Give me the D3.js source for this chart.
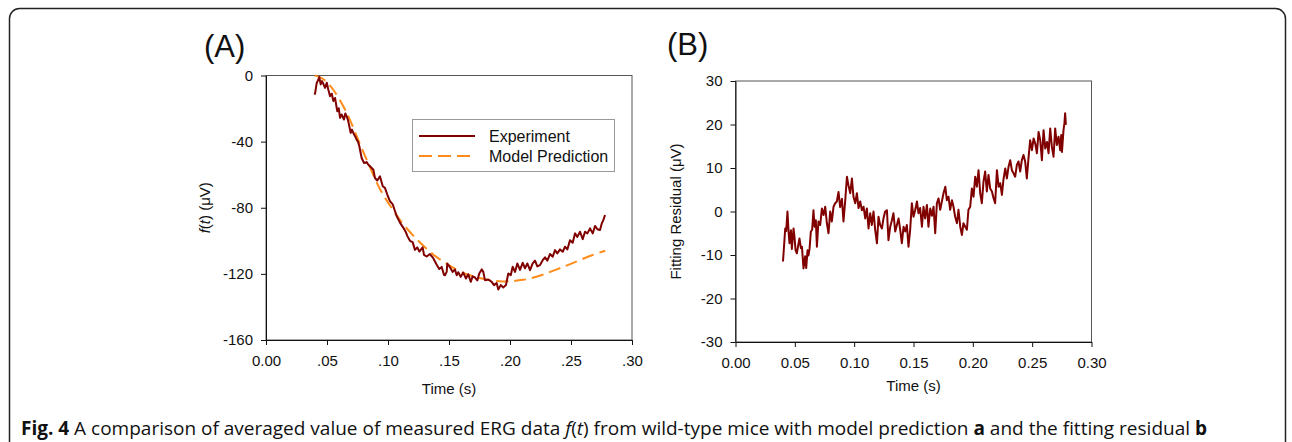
<!DOCTYPE html>
<html>
<head>
<meta charset="utf-8">
<script src="https://cdn.jsdelivr.net/npm/d3@7"></script>
<style>
body { margin: 0; background: #fff; }
svg text { font-family: "Liberation Sans", Arial, sans-serif; fill: #111; }
</style>
</head>
<body>
<div id="chart"></div>
<script>
// panel A - measured ERG f(t) (uV) against time (s)
var expTime = [0.0396,0.0402,0.0416,0.0426,0.0437,0.0448,0.0459,0.0470,0.0484,0.0498,
    0.0511,0.0525,0.0539,0.0552,0.0566,0.0584,0.0596,0.0607,0.0620,0.0639,
    0.0650,0.0661,0.0672,0.0683,0.0694,0.0705,0.0717,0.0730,0.0743,0.0754,
    0.0765,0.0784,0.0803,0.0825,0.0839,0.0852,0.0880,0.0893,0.0912,0.0934,
    0.0957,0.0975,0.0994,0.1016,0.1039,0.1057,0.1071,0.1098,0.1125,0.1148,
    0.1158,0.1180,0.1202,0.1221,0.1240,0.1257,0.1284,0.1295,0.1317,0.1344,
    0.1371,0.1399,0.1420,0.1440,0.1459,0.1467,0.1481,0.1486,0.1508,0.1530,
    0.1549,0.1563,0.1576,0.1596,0.1617,0.1639,0.1658,0.1678,0.1694,0.1713,
    0.1732,0.1748,0.1768,0.1781,0.1795,0.1822,0.1850,0.1869,0.1891,0.1904,
    0.1924,0.1945,0.1967,0.1986,0.2006,0.2022,0.2041,0.2060,0.2082,0.2104,
    0.2123,0.2142,0.2164,0.2186,0.2205,0.2224,0.2246,0.2268,0.2287,0.2306,
    0.2328,0.2350,0.2369,0.2388,0.2410,0.2432,0.2451,0.2470,0.2492,0.2514,
    0.2533,0.2552,0.2574,0.2596,0.2615,0.2634,0.2656,0.2678,0.2697,0.2716,
    0.2738,0.2752,0.2765,0.2779];
var expValue = [-11.5,-11,-4.4,-3,-1,-5.4,-3.4,-5,-7.5,-4.4,
    -8.6,-12.5,-11,-15.5,-13.6,-21.6,-19.8,-25.6,-23.6,-26.6,
    -23,-24.6,-27,-30.7,-34.7,-32.7,-35,-36.7,-38.8,-40,
    -42.8,-49.9,-52.9,-52.4,-54,-54.9,-57,-62,-63.5,-61,
    -67,-68,-72,-76,-78,-82,-85,-89,-92,-95,
    -97,-100,-100.8,-105.5,-104,-106.5,-104,-108.5,-109.5,-108,
    -110.5,-114.5,-117,-115.8,-120.6,-120.8,-118.8,-113.7,-116,-118.8,
    -117.4,-120.8,-119,-121.8,-119.2,-122.8,-120.2,-124.8,-121.5,-122.2,
    -124,-119.8,-117.3,-118.8,-123.8,-123.4,-124.8,-126.8,-125.6,-129.5,
    -126.8,-128.2,-126.8,-119.8,-120.8,-115.7,-118.8,-113.7,-117.6,-113.3,
    -116.6,-113.7,-117.8,-113.7,-112,-115.5,-114.7,-111.7,-110,-112,
    -108,-109.6,-105.6,-107.6,-105.2,-106.6,-103.6,-105.2,-99.6,-101.2,
    -95.5,-97.6,-94.5,-99,-94.5,-95.5,-92.5,-95.5,-91,-93,
    -93.5,-89.5,-87.5,-84.4];

// panel A - model prediction
var modelTime = [0.0400,0.0470,0.0550,0.0620,0.0690,0.0770,0.0850,0.0930,0.1020,0.1100,
    0.1210,0.1290,0.1370,0.1450,0.1560,0.1660,0.1750,0.1840,0.1940,0.2040,
    0.2110,0.2160,0.2260,0.2330,0.2430,0.2490,0.2600,0.2670,0.2780];
var modelValue = [0,-1.4,-8,-16.5,-26.6,-41.8,-55,-69,-79,-88,
    -97.3,-103,-108.5,-112.5,-117.6,-120.8,-122.6,-124,-124.8,-124.3,
    -123.6,-123,-120.8,-118.8,-116,-114.2,-110.8,-108.7,-106];

// panel B - fitting residual (uV)
var resTime = [0.0400,0.0404,0.0419,0.0427,0.0438,0.0447,0.0455,0.0467,0.0475,0.0489,
    0.0497,0.0506,0.0517,0.0531,0.0539,0.0551,0.0560,0.0573,0.0587,0.0596,
    0.0607,0.0615,0.0624,0.0635,0.0646,0.0657,0.0666,0.0677,0.0686,0.0699,
    0.0714,0.0728,0.0742,0.0756,0.0770,0.0784,0.0798,0.0812,0.0826,0.0840,
    0.0854,0.0868,0.0882,0.0897,0.0910,0.0924,0.0939,0.0952,0.0967,0.0981,
    0.0994,0.1009,0.1023,0.1037,0.1051,0.1065,0.1079,0.1093,0.1107,0.1121,
    0.1135,0.1149,0.1163,0.1177,0.1192,0.1205,0.1219,0.1234,0.1247,0.1261,
    0.1276,0.1289,0.1304,0.1318,0.1331,0.1346,0.1360,0.1374,0.1388,0.1402,
    0.1416,0.1430,0.1444,0.1458,0.1472,0.1486,0.1500,0.1514,0.1529,0.1542,
    0.1556,0.1571,0.1584,0.1598,0.1613,0.1626,0.1641,0.1655,0.1669,0.1683,
    0.1697,0.1711,0.1725,0.1739,0.1753,0.1768,0.1781,0.1795,0.1809,0.1824,
    0.1837,0.1851,0.1866,0.1879,0.1894,0.1908,0.1921,0.1936,0.1950,0.1963,
    0.1978,0.1992,0.2006,0.2020,0.2034,0.2048,0.2062,0.2076,0.2090,0.2104,
    0.2118,0.2132,0.2146,0.2161,0.2174,0.2188,0.2203,0.2217,0.2231,0.2245,
    0.2258,0.2273,0.2287,0.2301,0.2315,0.2329,0.2343,0.2357,0.2371,0.2385,
    0.2399,0.2413,0.2427,0.2441,0.2455,0.2469,0.2483,0.2498,0.2512,0.2526,
    0.2540,0.2554,0.2568,0.2582,0.2596,0.2610,0.2625,0.2638,0.2652,0.2666,
    0.2680,0.2694,0.2708,0.2722,0.2736,0.2745,0.2751,0.2764,0.2772,0.2778,
    0.2784];
var resValue = [-11.5,-10,-3.9,-4.5,0,-4.6,-7.3,-4.3,-8.6,-3.9,
    -5.8,-8.9,-9.6,-7.4,-6.2,-8.4,-8.1,-13.1,-10.3,-13,
    -8.9,-10.1,-8.6,-4.6,-4.2,0.3,-3.5,-2,-8.1,-2.3,
    -3.1,0.7,-0.8,1.1,-2.7,-5,0,-2.3,1.1,1.9,
    2.3,4.5,1,2.9,-2.3,2.3,8,6,4.2,7.6,
    3.4,1.9,4.2,0.8,2.3,0.3,1.1,-1.6,0.7,-3.9,
    -0.4,-3.1,0,-4.2,-7.3,-1.2,-3.1,-3.9,-1.6,0,
    0.3,-6.6,-3.5,-2,-0.4,-4.6,-3.1,-1.6,-4.2,-7.3,
    -3.5,-4.6,-3.1,-8.1,-4.2,1.9,-1.2,0.3,2.3,-0.4,
    0.8,-3.5,1.1,-1.6,1.5,-3.5,0.7,-1,1.1,-5,
    1.9,3,0.4,2.3,4.2,5.7,2.6,3.4,0.4,2.6,
    1.1,-1.2,-2.7,0.4,-3.5,-5.4,-2.7,-3.5,-4.2,0.4,
    1.1,5.3,3.4,8,5.7,9.5,4.2,1.9,6.9,9.2,
    4.6,8.4,5.3,4.6,3.1,1.9,9.5,5.7,6.5,3.8,
    7.3,9.9,7.6,10.3,11.8,9.5,8.8,8,10.7,11.5,
    9.2,11.8,13,11.5,7.6,12.2,16.4,14.1,16.8,15.6,
    13.4,18.3,16.4,11.8,18.7,14.5,16,13.4,19.1,14.9,
    12.6,19.1,15.3,17.2,14.1,17.6,13.7,18.7,20.3,22.6,
    19.9];

// ticks
var xTicksA = [0, 0.05, 0.10, 0.15, 0.20, 0.25, 0.30];
var xTickLabelsA = ["0.00", ".05", ".10", ".15", ".20", ".25", ".30"];
var yTicksA = [0, -40, -80, -120, -160];
var yTickLabelsA = ["0", "-40", "-80", "-120", "-160"];
var xTicksB = [0, 0.05, 0.10, 0.15, 0.20, 0.25, 0.30];
var xTickLabelsB = ["0.00", "0.05", "0.10", "0.15", "0.20", "0.25", "0.30"];
var yTicksB = [30, 20, 10, 0, -10, -20, -30];
var yTickLabelsB = ["30", "20", "10", "0", "-10", "-20", "-30"];
var legendLabels = ["Experiment", "Model Prediction"];

var width = 1292;
var height = 442;
var expColor = "#800000";
var modelColor = "#ff8c1a";

var svg = d3.select("#chart")
    .append("svg")
    .attr("width", width)
    .attr("height", height)
    .style("display", "block");

svg.append("rect")
    .attr("width", width)
    .attr("height", height)
    .attr("fill", "#fff");

// outer rounded frame
svg.append("rect")
    .attr("x", 9.5)
    .attr("y", 8.5)
    .attr("width", 1276)
    .attr("height", 446)
    .attr("rx", 10)
    .attr("fill", "none")
    .attr("stroke", "#222")
    .attr("stroke-width", 1.5);

function drawPanel(box, xTicks, xLabels, yTicks, yLabels) {
    var g = svg.append("g");
    var x = d3.scaleLinear().domain([0, 0.30]).range([box.left, box.right]);
    var y = d3.scaleLinear().domain([yTicks[yTicks.length - 1], yTicks[0]]).range([box.bottom, box.top]);

    // plot area border (top + right)
    g.append("rect")
        .attr("x", box.left)
        .attr("y", box.top)
        .attr("width", box.right - box.left)
        .attr("height", box.bottom - box.top)
        .attr("fill", "none")
        .attr("stroke", "#555")
        .attr("stroke-width", 1);

    var xAxis = g.append("g")
        .attr("transform", "translate(0," + box.bottom + ")")
        .call(d3.axisBottom(x)
            .tickValues(xTicks)
            .tickFormat(function (d, i) { return xLabels[i]; })
            .tickSize(5)
            .tickSizeOuter(0)
            .tickPadding(10));

    var yAxis = g.append("g")
        .attr("transform", "translate(" + box.left + ",0)")
        .call(d3.axisLeft(y)
            .tickValues(yTicks)
            .tickFormat(function (d, i) { return yLabels[i]; })
            .tickSize(5)
            .tickSizeOuter(0)
            .tickPadding(8));

    [xAxis, yAxis].forEach(function (a) {
        a.attr("font-size", null).attr("font-family", null);
        a.selectAll("path, line").attr("stroke", "#111");
        a.selectAll("text").style("font-size", "15px").attr("fill", "#111");
    });

    return { x: x, y: y, g: g };
}

// ---- panel A ----
var boxA = { left: 266, right: 632, top: 75.5, bottom: 340 };
var pA = drawPanel(boxA, xTicksA, xTickLabelsA, yTicksA, yTickLabelsA);

var modelLine = d3.line()
    .x(function (d) { return pA.x(d[0]); })
    .y(function (d) { return pA.y(d[1]); })
    .curve(d3.curveBasis);

pA.g.append("path")
    .datum(d3.zip(modelTime, modelValue))
    .attr("d", modelLine)
    .attr("fill", "none")
    .attr("stroke", modelColor)
    .attr("stroke-width", 2)
    .attr("stroke-dasharray", "12,6");

var expLine = d3.line()
    .x(function (d) { return pA.x(d[0]); })
    .y(function (d) { return pA.y(d[1]); });

pA.g.append("path")
    .datum(d3.zip(expTime, expValue))
    .attr("d", expLine)
    .attr("fill", "none")
    .attr("stroke", expColor)
    .attr("stroke-width", 2)
    .attr("stroke-linejoin", "round");

// legend
var legend = svg.append("g");
legend.append("rect")
    .attr("x", 412.5)
    .attr("y", 119.5)
    .attr("width", 202)
    .attr("height", 52)
    .attr("fill", "#fff")
    .attr("stroke", "#999");
legend.selectAll("line.key")
    .data(legendLabels)
    .enter().append("line")
    .attr("class", "key")
    .attr("x1", 419)
    .attr("x2", 475)
    .attr("y1", function (d, i) { return 136 + i * 20; })
    .attr("y2", function (d, i) { return 136 + i * 20; })
    .attr("stroke", function (d, i) { return i === 0 ? expColor : modelColor; })
    .attr("stroke-width", 2)
    .attr("stroke-dasharray", function (d, i) { return i === 0 ? null : "13,6"; });
legend.selectAll("text.key")
    .data(legendLabels)
    .enter().append("text")
    .attr("class", "key")
    .attr("x", 489)
    .attr("y", function (d, i) { return 141.5 + i * 20; })
    .style("font-size", "16px")
    .text(function (d) { return d; });

// panel title and axis labels A
svg.append("text")
    .attr("x", 204)
    .attr("y", 57)
    .style("font-size", "31px")
    .text("(A)");

var yLabA = svg.append("text")
    .attr("transform", "translate(210," + ((boxA.top + boxA.bottom) / 2) + ") rotate(-90)")
    .attr("text-anchor", "middle")
    .style("font-size", "15px");
yLabA.append("tspan").style("font-style", "italic").text("f");
yLabA.append("tspan").text("(");
yLabA.append("tspan").style("font-style", "italic").text("t");
yLabA.append("tspan").text(") (\u03bcV)");

svg.append("text")
    .attr("x", (boxA.left + boxA.right) / 2)
    .attr("y", 394)
    .attr("text-anchor", "middle")
    .style("font-size", "15px")
    .text("Time (s)");

// ---- panel B ----
var boxB = { left: 735.5, right: 1091.5, top: 81, bottom: 342 };
var pB = drawPanel(boxB, xTicksB, xTickLabelsB, yTicksB, yTickLabelsB);

var resLine = d3.line()
    .x(function (d) { return pB.x(d[0]); })
    .y(function (d) { return pB.y(d[1]); });

pB.g.append("path")
    .datum(d3.zip(resTime, resValue))
    .attr("d", resLine)
    .attr("fill", "none")
    .attr("stroke", expColor)
    .attr("stroke-width", 2)
    .attr("stroke-linejoin", "round");

svg.append("text")
    .attr("x", 667)
    .attr("y", 55)
    .style("font-size", "31px")
    .text("(B)");

svg.append("text")
    .attr("transform", "translate(681," + ((boxB.top + boxB.bottom) / 2) + ") rotate(-90)")
    .attr("text-anchor", "middle")
    .style("font-size", "15px")
    .text("Fitting Residual (\u03bcV)");

svg.append("text")
    .attr("x", (boxB.left + boxB.right) / 2)
    .attr("y", 391)
    .attr("text-anchor", "middle")
    .style("font-size", "15px")
    .text("Time (s)");

// ---- caption ----
var cap = svg.append("text")
    .attr("x", 21)
    .attr("y", 435)
    .style("font-family", "'Open Sans', 'Noto Sans', sans-serif")
    .style("font-size", "19px")
    .attr("fill", "#333");
cap.append("tspan").style("font-weight", "bold").text("Fig. 4");
cap.append("tspan").text(" A comparison of averaged value of measured ERG data ");
cap.append("tspan").style("font-style", "italic").text("f");
cap.append("tspan").text("(");
cap.append("tspan").style("font-style", "italic").text("t");
cap.append("tspan").text(") from wild-type mice with model prediction ");
cap.append("tspan").style("font-weight", "bold").text("a");
cap.append("tspan").text(" and the fitting residual ");
cap.append("tspan").style("font-weight", "bold").text("b");
</script>
</body>
</html>
